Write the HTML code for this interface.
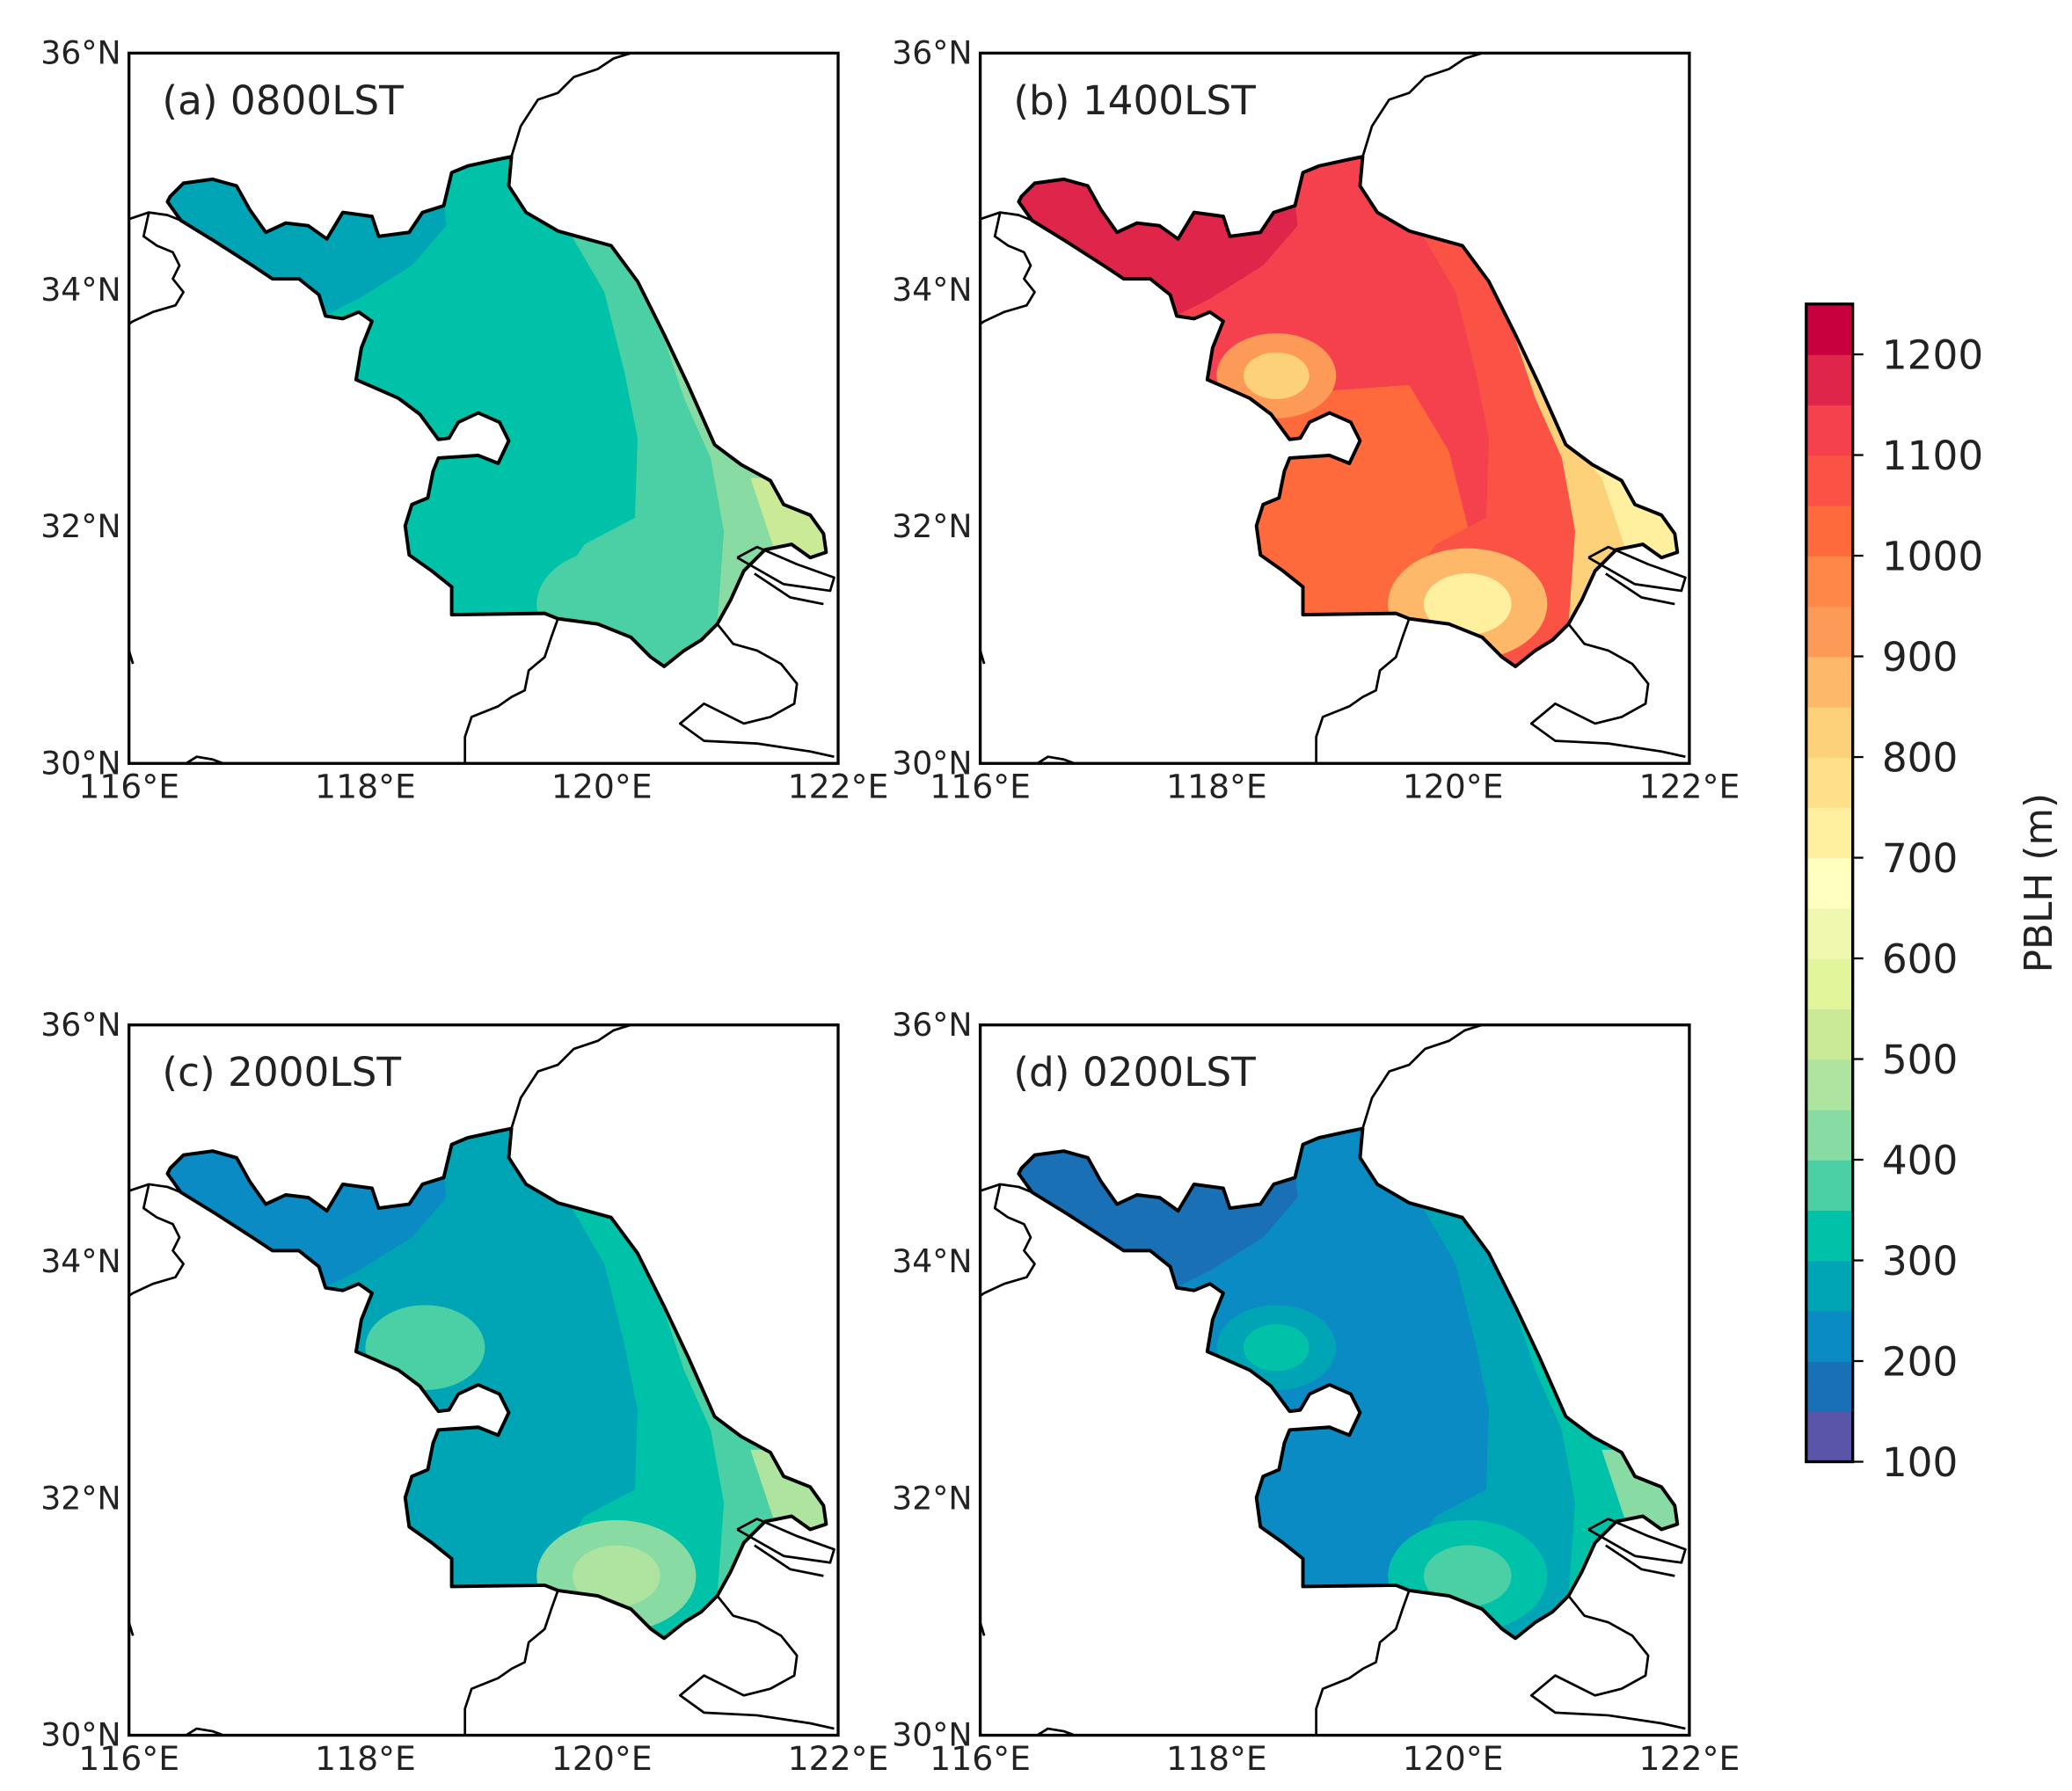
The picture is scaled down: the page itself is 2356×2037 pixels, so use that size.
<!DOCTYPE html>
<html><head><meta charset="utf-8"><style>
html,body{margin:0;padding:0;background:#fff;}
svg{display:block;font-family:"DejaVu Sans","Liberation Sans",sans-serif;}
</style></head><body>
<svg id="fig" width="2356" height="2037" viewBox="0 0 1560 1349" xmlns="http://www.w3.org/2000/svg"></svg>
<script>
// ---- data ----
const levels = [100,150,200,250,300,350,400,450,500,550,600,650,700,750,800,850,900,950,1000,1050,1100,1150,1200,1250];
const levelColors = ["#5a55a8","#1a70b5","#0a8bc4","#00a5b5","#00c2a8","#4bd0a5","#88dca3","#aee3a0","#cbea98","#e3f59a","#f0f8b0","#ffffc0","#fff0a0","#ffe08a","#fdd07a","#fdb86a","#fd9a58","#ff8848","#ff6a3d","#fa5245","#f5414d","#e0254a","#c8003d"];
const cbTicks = [100,200,300,400,500,600,700,800,900,1000,1100,1200];
const panelTitles = ["(a) 0800LST","(b) 1400LST","(c) 2000LST","(d) 0200LST"];
const lonTicks = [116,118,120,122];
const latTicks = [30,32,34,36];
// zone values per panel
const baseVals  = [325, 1125, 275, 225];
const nwVals    = [275, 1175, 225, 175];
const swVals    = [325, 1025, 275, 225];
const east1Vals = [375, 1075, 325, 275];
const coastVals = [425, 825, 375, 325];
const rimVals   = [425, 725, 375, 325];
const tipVals   = [525, 725, 475, 425];
const blobWOut  = [325, 925, 375, 275];
const blobWIn   = [325, 825, 375, 325];
const blobSOut  = [375, 875, 425, 325];
const blobSIn   = [375, 725, 475, 375];

function colorOf(v){for(let i=levels.length-2;i>=0;i--){if(v>=levels[i])return levelColors[i];}return levelColors[0];}

const NS="http://www.w3.org/2000/svg";
const svg=document.getElementById('fig');
function mk(tag,attrs,parent){const e=document.createElementNS(NS,tag);for(const k in attrs)e.setAttribute(k,attrs[k]);(parent||svg).appendChild(e);return e;}

const PX0=97,PY0=40,PW=534,PH=535;
const outline=[[128,148],[138,138],[160,135],[178,140],[188,158],[200,175],[215,168],[232,170],[246,180],[258,160],[280,163],[285,178],[308,175],[318,160],[334,155],[340,130],[352,125],[375,120],[385,118],[383,140],[396,160],[420,174],[460,185],[480,212],[500,252],[518,290],[538,335],[558,350],[580,362],[590,380],[610,388],[620,402],[622,416],[610,420],[596,410],[576,414],[560,430],[550,452],[540,470],[528,482],[515,490],[500,502],[490,495],[475,480],[450,470],[420,466],[410,462],[340,463],[340,442],[325,430],[308,418],[305,396],[310,380],[322,375],[326,355],[330,345],[360,343],[375,349],[383,332],[376,318],[360,311],[345,318],[338,330],[330,331],[316,312],[300,300],[282,292],[268,286],[272,262],[280,242],[270,235],[258,240],[245,238],[240,222],[225,210],[205,210],[190,200],[162,182],[136,166],[126,152]];
const nwPoly=[[90,110],[330,110],[336,170],[310,200],[270,225],[240,240],[90,240]];
const swPoly=[[280,300],[420,290],[450,340],[470,420],[430,440],[420,500],[280,500]];
const east1Poly=[[378,110],[420,160],[455,220],[470,280],[480,330],[478,390],[440,410],[420,440],[415,500],[650,500],[650,100]];
const coastPoly=[[400,120],[460,175],[495,240],[515,300],[535,345],[545,400],[540,470],[650,480],[650,120]];
const rimPoly=[[395,118],[470,180],[505,240],[528,295],[548,340],[565,360],[650,360],[650,110]];
const tipPoly=[[565,360],[650,360],[650,440],[585,420]];
const blobW=[320,283,45,32];
const blobS=[464,455,60,42];

function pts(p,dx,dy){return p.map(q=>(q[0]+dx)+','+(q[1]+dy)).join(' ');}

const panelOffsets=[[0,0],[641,0],[0,732],[641,732]];
const defs=mk('defs',{});
panelOffsets.forEach((o,i)=>{
  const dx=o[0],dy=o[1];
  const g=mk('g',{});
  
  
  const cp=mk('clipPath',{id:'clip'+i},defs);
  mk('polygon',{points:pts(outline,dx,dy)},cp);
  const fillG=mk('g',{'clip-path':'url(#clip'+i+')'},g);
  
  
  mk('rect',{x:PX0+dx,y:PY0+dy,width:PW,height:PH,fill:colorOf(baseVals[i])},fillG);
  mk('polygon',{points:pts(swPoly,dx,dy),fill:colorOf(swVals[i])},fillG);
  mk('polygon',{points:pts(nwPoly,dx,dy),fill:colorOf(nwVals[i])},fillG);
  mk('polygon',{points:pts(east1Poly,dx,dy),fill:colorOf(east1Vals[i])},fillG);
  mk('polygon',{points:pts(coastPoly,dx,dy),fill:colorOf(coastVals[i])},fillG);
  mk('polygon',{points:pts(rimPoly,dx,dy),fill:colorOf(rimVals[i])},fillG);
  mk('polygon',{points:pts(tipPoly,dx,dy),fill:colorOf(tipVals[i])},fillG);
  mk('ellipse',{cx:blobW[0]+dx,cy:blobW[1]+dy,rx:blobW[2],ry:blobW[3],fill:colorOf(blobWOut[i])},fillG);
  mk('ellipse',{cx:blobW[0]+dx,cy:blobW[1]+dy,rx:blobW[2]*0.55,ry:blobW[3]*0.55,fill:colorOf(blobWIn[i])},fillG);
  mk('ellipse',{cx:blobS[0]+dx,cy:blobS[1]+dy,rx:blobS[2],ry:blobS[3],fill:colorOf(blobSOut[i])},fillG);
  mk('ellipse',{cx:blobS[0]+dx,cy:blobS[1]+dy,rx:blobS[2]*0.55,ry:blobS[3]*0.55,fill:colorOf(blobSIn[i])},fillG);
  const ol=mk('polygon',{points:pts(outline,dx,dy),fill:'none',stroke:'#000','stroke-width':2.6,'stroke-linejoin':'round'},g);
  
  
  const lines=[
    [[385,118],[392,95],[405,75],[420,70],[432,58],[450,52],[462,44],[475,40]],
    [[97,165],[112,160],[126,162],[136,166]],
    [[112,160],[108,178],[118,185],[130,190],[135,200],[130,210],[138,220],[132,230],[115,235],[100,242],[97,244]],
    [[420,466],[415,480],[410,495],[398,505],[395,520],[385,525],[375,532],[355,540],[350,555],[350,575]],
    [[540,470],[552,485],[570,490],[588,500],[600,515],[598,530],[580,540],[560,545],[530,530],[512,545],[530,558],[570,560],[610,566],[628,570]],
    [[555,420],[590,440],[625,445],[628,435],[600,425],[570,412],[555,420]],
    [[568,432],[595,450],[620,455]],
    [[140,575],[148,570],[160,572],[168,575]],
    [[97,490],[100,500]]
  ];
  lines.forEach(l=>{const p=mk('polyline',{points:pts(l,dx,dy),fill:'none',stroke:'#000','stroke-width':1.8,'stroke-linejoin':'round'},g);
    
    });
  const fr=mk('rect',{x:PX0+dx,y:PY0+dy,width:PW,height:PH,fill:'none',stroke:'#000','stroke-width':2.2},g);
  
  
  const t=mk('text',{x:122+dx,y:86+dy,'font-size':30,fill:'#222'},g);
  t.textContent=panelTitles[i];
  
  
  lonTicks.forEach(lo=>{const x=PX0+dx+(lo-116)/6*PW;
    const tx=mk('text',{x:x,y:PY0+dy+PH+26,'font-size':25,'text-anchor':'middle',fill:'#222'},g);
    tx.textContent=lo+'°E';
    
    });
  latTicks.forEach(la=>{const y=PY0+dy+PH-(la-30)/6*PH;
    const tx=mk('text',{x:PX0+dx-6,y:y+8,'font-size':24,'text-anchor':'end',fill:'#222'},g);
    tx.textContent=la+'°N';
    
    });
});

const CBX=1360,CBW=35,CBTOP=229,CBBOT=1101;
const cbG=mk('g',{});


function cbY(v){return CBBOT-(v-levels[0])/(levels[levels.length-1]-levels[0])*(CBBOT-CBTOP);}
for(let i=0;i<levelColors.length;i++){
  const y1=cbY(levels[i+1]),y0=cbY(levels[i]);
  const r=mk('rect',{x:CBX,y:y1,width:CBW,height:y0-y1+0.5,fill:levelColors[i]},cbG);
  
  
}
mk('rect',{x:CBX,y:CBTOP,width:CBW,height:CBBOT-CBTOP,fill:'none',stroke:'#000','stroke-width':2.2},cbG);
cbTicks.forEach(v=>{const y=cbY(v);
  mk('line',{x1:CBX+CBW,x2:CBX+CBW+8,y1:y,y2:y,stroke:'#000','stroke-width':1.5},cbG);
  const tx=mk('text',{x:CBX+CBW+22,y:y+11,'font-size':30,fill:'#222'},cbG);
  tx.textContent=v;
  
  });
const lab=mk('text',{x:1545,y:665,'font-size':29,'text-anchor':'middle',fill:'#222',transform:'rotate(-90 1545 665)'},cbG);
lab.textContent='PBLH (m)';


</script>
</body></html>
